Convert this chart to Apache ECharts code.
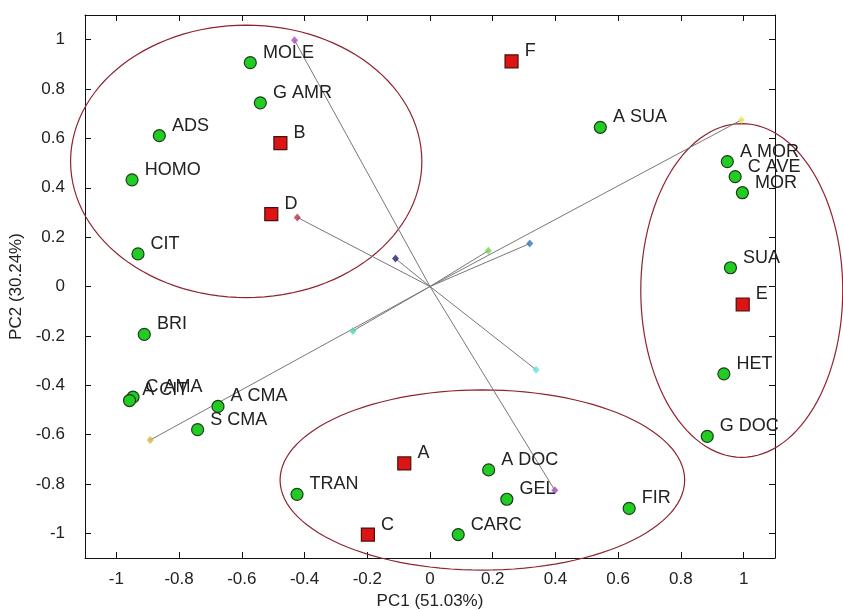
<!DOCTYPE html>
<html>
<head>
<meta charset="utf-8">
<script src="https://cdn.jsdelivr.net/npm/echarts@6/dist/echarts.min.js"></script>
<style>
  html, body { margin: 0; padding: 0; background: #fff; }
  #chart { width: 843px; height: 610px; }
</style>
</head>
<body>
<div id="chart"></div>
<script>
// variables (green circles)
const varNames = ['MOLE', 'G AMR', 'ADS', 'HOMO', 'CIT', 'A SUA', 'A MOR', 'C AVE', 'MOR', 'SUA', 'HET',
  'G DOC', 'FIR', 'A DOC', 'GEL', 'CARC', 'TRAN', 'BRI', 'C AMA', 'A CIT', 'A CMA', 'S CMA'];
const varX = [-0.573, -0.541, -0.863, -0.950, -0.931, 0.543, 0.948, 0.973, 0.996, 0.958, 0.937,
  0.884, 0.635, 0.187, 0.245, 0.090, -0.424, -0.911, -0.947, -0.958, -0.676, -0.741];
const varY = [0.907, 0.744, 0.611, 0.432, 0.132, 0.645, 0.506, 0.445, 0.380, 0.076, -0.354,
  -0.607, -0.899, -0.743, -0.862, -1.005, -0.842, -0.194, -0.448, -0.462, -0.486, -0.580];

// objects (red squares)
const objNames = ['A', 'B', 'C', 'D', 'E', 'F'];
const objX = [-0.082, -0.477, -0.198, -0.506, 0.997, 0.260];
const objY = [-0.717, 0.581, -1.005, 0.293, -0.073, 0.912];

// loading vectors (drawn from origin)
const vecX = [-0.432, 0.398, -0.423, -0.110, 0.186, 0.318, 0.993, -0.246, -0.892, 0.338];
const vecY = [0.998, -0.826, 0.280, 0.113, 0.145, 0.174, 0.675, -0.180, -0.622, -0.337];

// group ellipses: centre x, centre y, half width, half height
const ellCX = [-0.586, 0.994, 0.167];
const ellCY = [0.507, -0.016, -0.784];
const ellRX = [0.560, 0.322, 0.645];
const ellRY = [0.552, 0.676, 0.365];

const ticks = [-1, -0.8, -0.6, -0.4, -0.2, 0, 0.2, 0.4, 0.6, 0.8, 1];

const vecColors = ['#b448c4', '#a848c0', '#b03848', '#24246e', '#78d058', '#3478b8',
  '#e4e45c', '#54d4b4', '#d4b444', '#5ce4e4'];

const FONT = 'Liberation Sans, Arial, sans-serif';

let chart = echarts.init(document.getElementById('chart'));

const labelStyle = {
  show: true,
  position: 'right',
  distance: 6,
  offset: [0, -10],
  formatter: p => p.name,
  color: '#222',
  fontSize: 18,
  fontFamily: FONT
};

// top / right box sides with inward ticks
const boxAxis = (pos) => ({
  type: 'value',
  position: pos,
  min: -1.1,
  max: 1.1,
  axisLine: { show: true, onZero: false, lineStyle: { color: '#111', width: 1 } },
  axisTick: { show: true, inside: true, length: 6, customValues: ticks, lineStyle: { color: '#111' } },
  axisLabel: { show: false },
  splitLine: { show: false }
});

chart.setOption({
  animation: false,
  grid: { left: 85, right: 68, top: 15, bottom: 52, outerBoundsMode: 'none', containLabel: false },
  xAxis: [
    {
      type: 'value',
      min: -1.1,
      max: 1.1,
      name: 'PC1 (51.03%)',
      nameLocation: 'middle',
      nameGap: 35,
      nameTextStyle: { color: '#222', fontSize: 17, fontFamily: FONT },
      axisLine: { show: true, onZero: false, lineStyle: { color: '#111', width: 1 } },
      axisTick: { show: true, inside: true, length: 6, customValues: ticks, lineStyle: { color: '#111' } },
      axisLabel: { customValues: ticks, margin: 13, color: '#222', fontSize: 17, fontFamily: FONT },
      splitLine: { show: false }
    },
    boxAxis('top')
  ],
  yAxis: [
    {
      type: 'value',
      min: -1.1,
      max: 1.1,
      name: 'PC2 (30.24%)',
      nameLocation: 'middle',
      nameGap: 48,
      nameRotate: 90,
      nameTextStyle: { color: '#222', fontSize: 17, fontFamily: FONT },
      axisLine: { show: true, onZero: false, lineStyle: { color: '#111', width: 1 } },
      axisTick: { show: true, inside: true, length: 6, customValues: ticks, lineStyle: { color: '#111' } },
      axisLabel: { customValues: ticks, margin: 20, color: '#222', fontSize: 17, fontFamily: FONT },
      splitLine: { show: false }
    },
    boxAxis('right')
  ],
  series: [
    {
      // group ellipses
      type: 'custom',
      z: 1,
      clip: false,
      silent: true,
      data: ellCX.map((cx, i) => [cx, ellCY[i], ellRX[i], ellRY[i]]),
      renderItem: function (params, api) {
        const c = api.coord([api.value(0), api.value(1)]);
        const s = api.size([api.value(2), api.value(3)]);
        const pts = [];
        for (let k = 0; k < 120; k++) {
          const t = k / 120 * Math.PI * 2;
          pts.push([c[0] + s[0] * Math.cos(t), c[1] + s[1] * Math.sin(t)]);
        }
        return {
          type: 'polygon',
          shape: { points: pts },
          style: { fill: null, stroke: '#8e2430', lineWidth: 1.2 }
        };
      }
    },
    {
      // loading vector lines
      type: 'lines',
      coordinateSystem: 'cartesian2d',
      z: 2,
      silent: true,
      symbol: 'none',
      lineStyle: { color: '#777', width: 1, opacity: 1 },
      data: vecX.map((x, i) => ({ coords: [[0, 0], [x, vecY[i]]] }))
    },
    {
      // loading vector tips
      type: 'scatter',
      z: 3,
      symbol: 'diamond',
      symbolSize: [7, 8],
      data: vecX.map((x, i) => ({ value: [x, vecY[i]], itemStyle: { color: vecColors[i] } }))
    },
    {
      type: 'scatter',
      z: 4,
      symbol: 'circle',
      symbolSize: 12,
      itemStyle: { color: '#22cc22', borderColor: '#1a3f1a', borderWidth: 1.2, opacity: 1 },
      label: labelStyle,
      data: varNames.map((n, i) => ({ name: n, value: [varX[i], varY[i]] }))
    },
    {
      type: 'scatter',
      z: 5,
      symbol: 'rect',
      symbolSize: 13,
      itemStyle: { color: '#dd1414', borderColor: '#4a1010', borderWidth: 1.2, opacity: 1 },
      label: labelStyle,
      data: objNames.map((n, i) => ({ name: n, value: [objX[i], objY[i]] }))
    }
  ]
});
</script>
</body>
</html>
